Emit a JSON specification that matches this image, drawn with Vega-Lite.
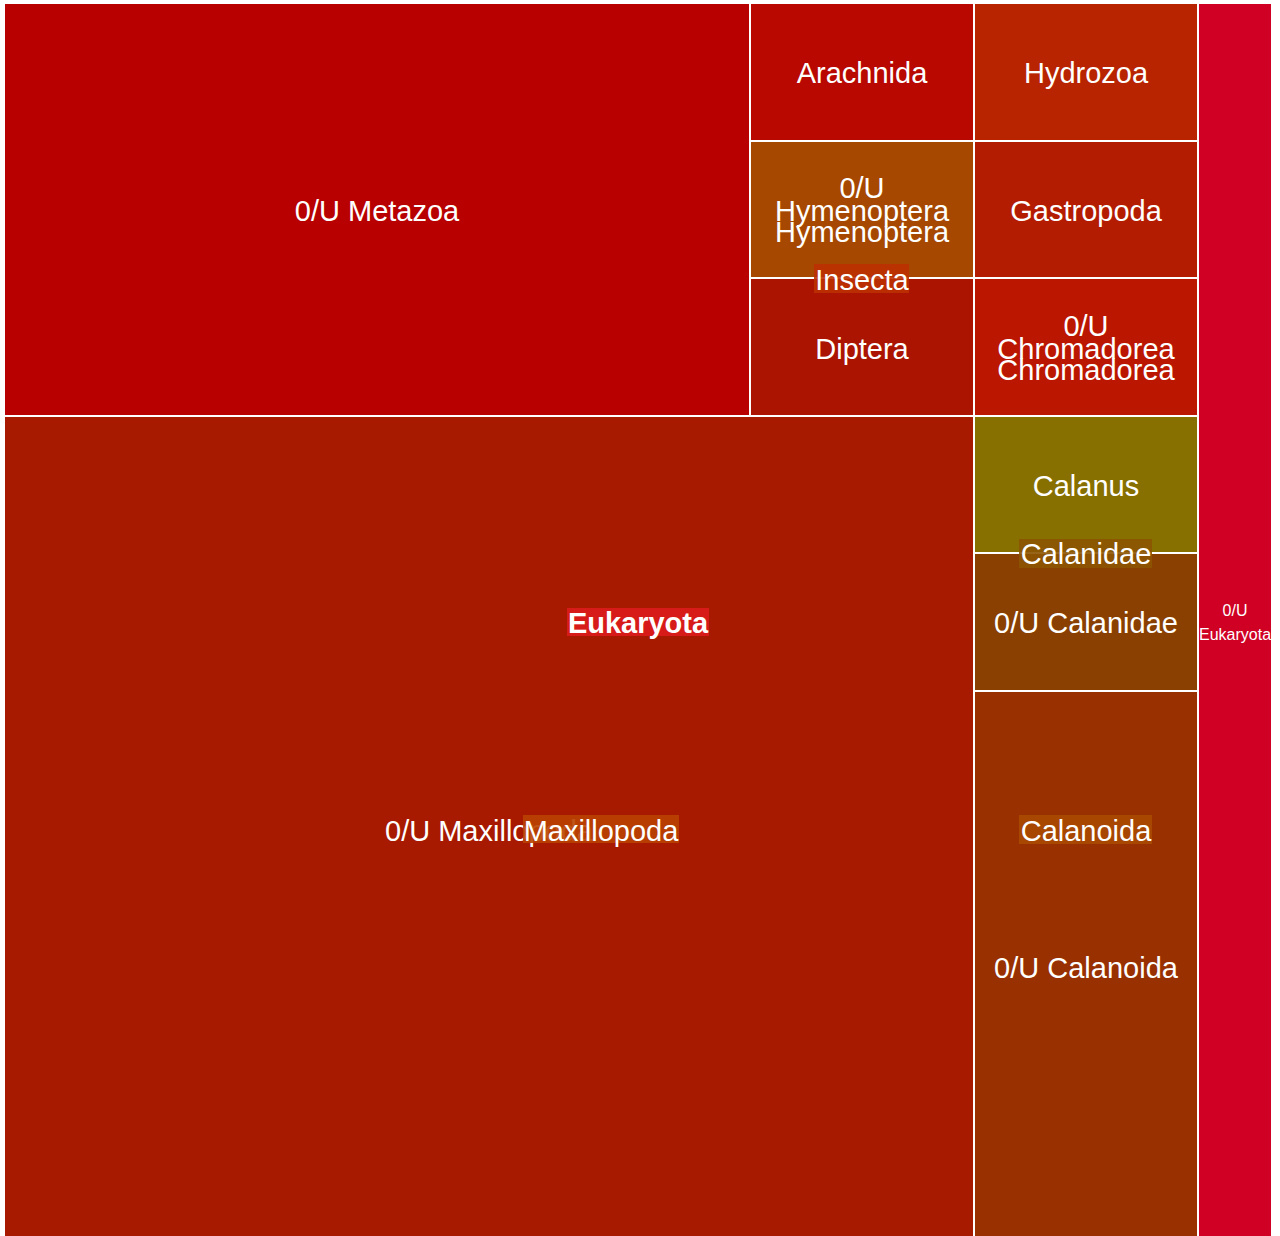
{
  "$schema": "https://vega.github.io/schema/vega-lite/v6.json",
  "autosize": {"type": "fit", "contains": "padding"},
  "width": 1280,
  "height": 1236,
  "padding": 0,
  "background": "white",
  "config": {"view": {"stroke": null}},
  "datasets": {
    "cells": [
      {"name": "0/U Metazoa", "x0": 4, "x1": 750, "y0": 3, "y1": 416},
      {"name": "Arachnida", "x0": 750, "x1": 974, "y0": 3, "y1": 141},
      {"name": "0/U Hymenoptera", "x0": 750, "x1": 974, "y0": 141, "y1": 278},
      {"name": "Diptera", "x0": 750, "x1": 974, "y0": 278, "y1": 416},
      {"name": "Hydrozoa", "x0": 974, "x1": 1198, "y0": 3, "y1": 141},
      {"name": "Gastropoda", "x0": 974, "x1": 1198, "y0": 141, "y1": 278},
      {"name": "0/U Chromadorea", "x0": 974, "x1": 1198, "y0": 278, "y1": 416},
      {"name": "Calanus", "x0": 974, "x1": 1198, "y0": 416, "y1": 553},
      {"name": "0/U Calanidae", "x0": 974, "x1": 1198, "y0": 553, "y1": 691},
      {"name": "0/U Calanoida", "x0": 974, "x1": 1198, "y0": 691, "y1": 1244},
      {"name": "0/U Maxillopoda", "x0": 4, "x1": 974, "y0": 416, "y1": 1244},
      {"name": "0/U Eukaryota", "x0": 1198, "x1": 1272, "y0": 3, "y1": 1244}
    ],
    "leafLabels": [
      {"text": "0/U Metazoa", "cx": 377, "cy": 210},
      {"text": "Arachnida", "cx": 862, "cy": 72},
      {"text": "0/U", "cx": 862, "cy": 187},
      {"text": "Hymenoptera", "cx": 862, "cy": 210},
      {"text": "Hymenoptera", "cx": 862, "cy": 231},
      {"text": "Diptera", "cx": 862, "cy": 348},
      {"text": "Hydrozoa", "cx": 1086, "cy": 72},
      {"text": "Gastropoda", "cx": 1086, "cy": 210},
      {"text": "0/U", "cx": 1086, "cy": 325},
      {"text": "Chromadorea", "cx": 1086, "cy": 348},
      {"text": "Chromadorea", "cx": 1086, "cy": 369},
      {"text": "Calanus", "cx": 1086, "cy": 485},
      {"text": "0/U Calanidae", "cx": 1086, "cy": 622},
      {"text": "0/U Calanoida", "cx": 1086, "cy": 967},
      {"text": "0/U Maxillopoda", "cx": 489, "cy": 830}
    ],
    "boxes": [
      {"name": "Insecta", "cx": 862, "cy": 279, "x0": 814, "x1": 909, "y0": 264, "y1": 293},
      {"name": "Calanidae", "cx": 1086, "cy": 553, "x0": 1019, "x1": 1152, "y0": 539, "y1": 568},
      {"name": "Calanoida", "cx": 1086, "cy": 830, "x0": 1019, "x1": 1152, "y0": 815, "y1": 844},
      {"name": "Maxillopoda", "cx": 601, "cy": 830, "x0": 523, "x1": 679, "y0": 815, "y1": 843},
      {"name": "Eukaryota", "cx": 638, "cy": 622, "x0": 567, "x1": 709, "y0": 608, "y1": 636}
    ],
    "smallLabels": [
      {"text": "0/U", "cx": 1235, "cy": 610},
      {"text": "Eukaryota", "cx": 1235, "cy": 634}
    ]
  },
  "layer": [
    {
      "data": {"name": "cells"},
      "mark": {"type": "rect", "stroke": "white", "strokeWidth": 2, "clip": true},
      "encoding": {
        "x": {"field": "x0", "type": "quantitative", "scale": {"domain": [0, 1280], "nice": false, "zero": false}, "axis": null},
        "x2": {"field": "x1"},
        "y": {"field": "y0", "type": "quantitative", "scale": {"domain": [0, 1236], "reverse": true, "nice": false, "zero": false}, "axis": null},
        "y2": {"field": "y1"},
        "color": {
          "field": "name", "type": "nominal", "legend": null,
          "scale": {
            "domain": ["0/U Metazoa", "Arachnida", "0/U Hymenoptera", "Diptera", "Hydrozoa", "Gastropoda", "0/U Chromadorea", "Calanus", "0/U Calanidae", "0/U Calanoida", "0/U Maxillopoda", "0/U Eukaryota", "Insecta", "Calanidae", "Calanoida", "Maxillopoda", "Eukaryota"],
            "range": ["#b80000", "#b80800", "#a64800", "#aa1400", "#b82400", "#b41c00", "#bb1600", "#887000", "#8a4000", "#983000", "#a81a00", "#d00024", "#bb3000", "#8c5400", "#a84a00", "#b84200", "#dc1c1c"]
          }
        }
      }
    },
    {
      "data": {"name": "leafLabels"},
      "mark": {"type": "text", "font": "Liberation Sans", "fontSize": 29, "dy": 2, "fill": "white", "align": "center", "baseline": "middle"},
      "encoding": {
        "x": {"field": "cx", "type": "quantitative"},
        "y": {"field": "cy", "type": "quantitative"},
        "text": {"field": "text"}
      }
    },
    {
      "data": {"name": "boxes"},
      "mark": {"type": "rect", "opacity": 0.9},
      "encoding": {
        "x": {"field": "x0", "type": "quantitative"},
        "x2": {"field": "x1"},
        "y": {"field": "y0", "type": "quantitative"},
        "y2": {"field": "y1"},
        "color": {"field": "name", "type": "nominal", "legend": null}
      }
    },
    {
      "data": {"name": "boxes"},
      "transform": [{"filter": "datum.name !== 'Eukaryota'"}],
      "mark": {"type": "text", "font": "Liberation Sans", "fontSize": 29, "dy": 2, "fill": "white", "align": "center", "baseline": "middle"},
      "encoding": {
        "x": {"field": "cx", "type": "quantitative"},
        "y": {"field": "cy", "type": "quantitative"},
        "text": {"field": "name"}
      }
    },
    {
      "data": {"name": "boxes"},
      "transform": [{"filter": "datum.name === 'Eukaryota'"}],
      "mark": {"type": "text", "font": "Liberation Sans", "fontSize": 29, "dy": 2, "fontWeight": "bold", "fill": "white", "align": "center", "baseline": "middle"},
      "encoding": {
        "x": {"field": "cx", "type": "quantitative"},
        "y": {"field": "cy", "type": "quantitative"},
        "text": {"field": "name"}
      }
    },
    {
      "data": {"name": "smallLabels"},
      "mark": {"type": "text", "font": "Liberation Sans", "fontSize": 16, "dy": 1, "fill": "white", "align": "center", "baseline": "middle"},
      "encoding": {
        "x": {"field": "cx", "type": "quantitative"},
        "y": {"field": "cy", "type": "quantitative"},
        "text": {"field": "text"}
      }
    }
  ]
}
